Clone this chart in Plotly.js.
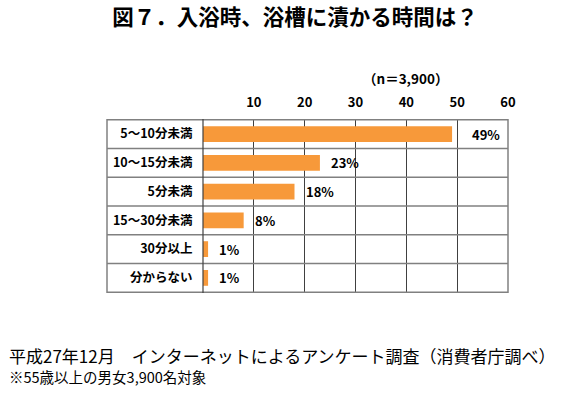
<!DOCTYPE html>
<html><head><meta charset="utf-8">
<script src="https://cdn.plot.ly/plotly-3.0.1.min.js"></script>
<style>html,body{margin:0;padding:0;background:#fff;}#chart{width:570px;height:394px;}</style>
</head><body><div id="chart"></div>
<script>
const categories = ["5～10分未満","10～15分未満","5分未満","15～30分未満","30分以上","分からない"];
const values = [49, 23, 18, 8, 1, 1];
const valueLabels = ["49%","23%","18%","8%","1%","1%"];
const tickVals = [0,10,20,30,40,50,60];
const tickText = ["","10","20","30","40","50","60"];

const F = '"Noto Sans CJK JP", "Noto Sans", sans-serif';
const L = 203, R = 62, T = 119, B = 101;
const plotW = 570 - L - R;
const boxLeft = (107 - L) / plotW;

const shapes = [];
for (let i = 0; i <= categories.length; i++) {
  shapes.push({type:'line', xref:'paper', yref:'y', x0: boxLeft, x1: 1, y0: i - 0.5, y1: i - 0.5,
    line:{color:'#808080', width:1.5}});
}
shapes.push({type:'line', xref:'paper', yref:'paper', x0: boxLeft, x1: boxLeft, y0: 0, y1: 1, line:{color:'#808080', width:1.5}});
shapes.push({type:'line', xref:'paper', yref:'paper', x0: 1, x1: 1, y0: 0, y1: 1, line:{color:'#808080', width:1.5}});
shapes.push({type:'line', xref:'paper', yref:'paper', x0: 0, x1: 0, y0: 0, y1: 1, line:{color:'#404040', width:1.2}});

const trace = {
  type:'bar', orientation:'h', y: categories, x: values,
  marker:{color:'#F7993A'}, width:0.55,
  hoverinfo:'none'
};

const annotations = [
  {text:'<b>（n＝3,900）</b>', xref:'paper', yref:'paper', x:(405-L)/plotW, y:1, yshift:41, xanchor:'center', yanchor:'middle',
    showarrow:false, font:{family:F, size:13.5, color:'#000'}},
  {text:'平成27年12月　インターネットによるアンケート調査（消費者庁調べ）', xref:'paper', yref:'paper',
    x:(7-L)/plotW, y:0, yshift:-62, xanchor:'left', yanchor:'middle', showarrow:false,
    font:{family:F, size:17, color:'#000'}},
  {text:'※55歳以上の男女3,900名対象', xref:'paper', yref:'paper',
    x:(7-L)/plotW, y:0, yshift:-83, xanchor:'left', yanchor:'middle', showarrow:false,
    font:{family:F, size:14.5, color:'#000'}}
];
categories.forEach((c, i) => {
  annotations.push({text:'<b>' + valueLabels[i] + '</b>', xref:'x', yref:'y', x: values[i], y: c,
    xanchor:'left', yanchor:'middle', xshift: i === 0 ? 18 : 9, showarrow:false,
    font:{family:F, size:13, color:'#000'}});
});

const layout = {
  width:570, height:394,
  margin:{l:L, r:R, t:T, b:B},
  paper_bgcolor:'#fff', plot_bgcolor:'#fff',
  showlegend:false,
  bargap:0.45,
  title:{text:'<b>図７．入浴時、浴槽に漬かる時間は？</b>', font:{family:F, size:21.5, color:'#000'},
    x:295/570, xanchor:'center', xref:'container', y:0.955, yanchor:'middle'},
  xaxis:{range:[0,60], side:'top', tickvals:tickVals, ticktext:tickText,
    showgrid:true, gridcolor:'#404040', gridwidth:1.2, zeroline:false,
    showline:false, ticks:'outside', ticklen:6, tickcolor:'rgba(0,0,0,0)',
    tickfont:{family:F, size:13, color:'#000', weight:'bold'}, fixedrange:true},
  yaxis:{autorange:'reversed', showgrid:false, zeroline:false, showline:false,
    ticks:'outside', ticklen:7, tickcolor:'rgba(0,0,0,0)',
    tickfont:{family:F, size:12.5, color:'#000', weight:'bold'}, fixedrange:true},
  shapes: shapes,
  annotations: annotations
};
Plotly.newPlot('chart', [trace], layout, {staticPlot:true, displayModeBar:false});
</script></body></html>
